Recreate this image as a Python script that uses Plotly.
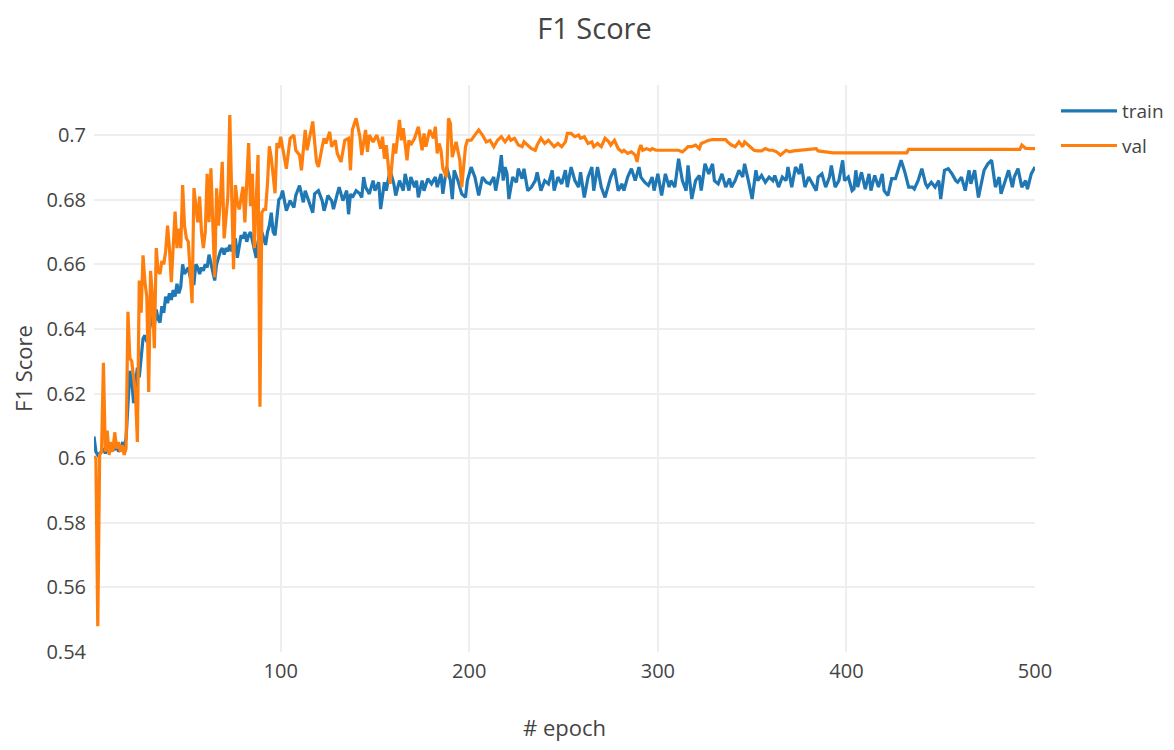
import plotly.graph_objects as go

# ---- data ----
train_epoch = [1,2,3,4,5,6,7,8,9,10,11,12,13,14,15,16,17,18,19,20,21,22,23,24,25,26,27,28,29,30,
    31,32,33,34,35,36,37,38,39,40,41,42,43,44,45,46,47,48,49,50,51,52,53,54,55,56,57,58,59,60,
    61,62,63,64,65,66,67,68,69,70,71,72,73,74,75,76,77,78,79,80,81,82,83,84,85,86,87,88,89,90,
    91,92,93,94,95,96,97,98,99,100,
    101,103,105,107,108,110,112,113,115,117,118,120,122,123,124,125,127,128,130,131,133,135,136,137,138,
    140,142,143,144,145,147,149,150,152,153,155,156,158,160,161,163,165,166,168,169,171,172,173,175,176,
    178,180,182,183,185,186,188,190,191,192,194,196,198,199,201,203,205,207,209,211,213,214,216,217,218,
    219,220,221,223,225,226,228,229,231,233,235,236,238,240,242,244,245,247,249,251,252,254,256,258,259,
    261,263,265,266,268,270,272,274,275,277,279,281,282,284,286,288,290,291,293,295,297,298,300,302,304,
    306,307,309,311,313,315,316,318,320,322,323,325,327,329,330,332,334,336,338,339,341,343,345,346,348,
    350,352,353,355,357,359,361,362,364,366,368,369,371,373,375,376,378,380,382,384,385,387,389,391,392,
    394,396,398,399,401,403,404,405,406,408,410,412,413,415,417,419,420,422,424,426,427,429,431,433,435,
    436,438,440,442,443,445,447,449,450,452,454,456,458,459,461,463,465,466,468,470,472,473,475,477,479,
    481,482,484,486,488,489,491,493,495,496,498,500]
train_f1 = [0.6067,0.6020,0.6010,0.6015,0.6020,0.6030,0.6015,0.6025,0.6040,0.6020,0.6035,0.6025,0.6045,
    0.6020,0.6030,0.6045,0.6040,0.6060,0.6150,0.6270,0.6240,0.6170,0.6230,0.6280,0.6250,0.6300,0.6370,
    0.6380,0.6360,0.6390,0.6420,0.6440,0.6410,0.6460,0.6430,0.6420,0.6470,0.6450,0.6500,0.6480,0.6510,
    0.6490,0.6520,0.6500,0.6540,0.6510,0.6530,0.6600,0.6570,0.6580,0.6590,0.6560,0.6540,0.6540,0.6600,
    0.6590,0.6570,0.6590,0.6580,0.6600,0.6590,0.6630,0.6600,0.6580,0.6550,0.6600,0.6620,0.6640,0.6650,
    0.6630,0.6650,0.6640,0.6660,0.6640,0.6670,0.6680,0.6620,0.6660,0.6690,0.6680,0.6700,0.6670,0.6690,
    0.6700,0.6670,0.6640,0.6620,0.6670,0.6690,0.6700,0.6680,0.6660,0.6700,0.6720,0.6760,0.6700,0.6690,
    0.6750,0.6800,0.6807,
    0.6828,0.6766,0.6797,0.6776,0.6813,0.6844,0.6792,0.6828,0.6797,0.6760,0.6818,0.6828,0.6797,0.6766,
    0.6786,0.6813,0.6797,0.6771,0.6818,0.6839,0.6797,0.6828,0.6755,0.6818,0.6807,0.6828,0.6818,0.6807,
    0.6870,0.6839,0.6818,0.6859,0.6828,0.6854,0.6771,0.6854,0.6828,0.6891,0.6849,0.6813,0.6859,0.6828,
    0.6880,0.6828,0.6870,0.6839,0.6859,0.6807,0.6859,0.6828,0.6865,0.6849,0.6870,0.6839,0.6880,0.6818,
    0.6901,0.6859,0.6802,0.6891,0.6859,0.6818,0.6807,0.6859,0.6901,0.6870,0.6813,0.6870,0.6854,0.6849,
    0.6870,0.6828,0.6891,0.6938,0.6859,0.6901,0.6880,0.6802,0.6870,0.6854,0.6896,0.6865,0.6896,0.6828,
    0.6839,0.6859,0.6885,0.6828,0.6859,0.6849,0.6891,0.6828,0.6870,0.6849,0.6891,0.6839,0.6901,0.6859,
    0.6839,0.6885,0.6807,0.6870,0.6901,0.6828,0.6901,0.6839,0.6807,0.6854,0.6870,0.6896,0.6828,0.6849,
    0.6828,0.6870,0.6896,0.6859,0.6901,0.6870,0.6854,0.6844,0.6870,0.6828,0.6880,0.6813,0.6880,0.6839,
    0.6859,0.6839,0.6927,0.6859,0.6828,0.6906,0.6802,0.6859,0.6875,0.6828,0.6911,0.6880,0.6911,0.6859,
    0.6849,0.6880,0.6839,0.6865,0.6839,0.6859,0.6891,0.6870,0.6911,0.6859,0.6802,0.6891,0.6859,0.6875,
    0.6854,0.6870,0.6859,0.6875,0.6839,0.6870,0.6859,0.6901,0.6839,0.6901,0.6880,0.6911,0.6839,0.6870,
    0.6849,0.6828,0.6870,0.6880,0.6839,0.6870,0.6906,0.6839,0.6859,0.6922,0.6859,0.6870,0.6828,0.6833,
    0.6891,0.6839,0.6885,0.6833,0.6880,0.6828,0.6875,0.6839,0.6880,0.6828,0.6813,0.6865,0.6865,0.6885,
    0.6922,0.6885,0.6839,0.6839,0.6833,0.6859,0.6896,0.6849,0.6839,0.6854,0.6839,0.6859,0.6802,0.6891,
    0.6896,0.6880,0.6859,0.6854,0.6870,0.6828,0.6891,0.6849,0.6891,0.6807,0.6859,0.6891,0.6911,0.6922,
    0.6839,0.6870,0.6818,0.6859,0.6891,0.6839,0.6870,0.6896,0.6839,0.6859,0.6833,0.6880,0.6901]

val_epoch = [1,2,3,4,5,6,7,8,9,10,11,12,13,14,15,16,17,18,19,20,21,22,23,24,25,26,27,28,29,30,
    31,32,33,34,35,36,37,38,39,40,41,42,43,44,45,46,47,48,49,50,51,52,53,54,55,56,57,58,59,60,
    61,62,63,64,65,66,67,68,69,70,71,72,73,74,75,76,77,78,79,80,81,82,83,84,85,86,87,88,89,90,
    91,92,93,94,95,96,97,98,99,100,
    101,103,105,107,108,110,111,113,114,117,119,120,122,123,124,126,127,129,130,132,134,136,137,138,140,
    142,143,145,146,147,149,151,153,154,155,156,158,160,161,163,164,165,167,168,169,171,173,175,176,177,
    179,181,182,183,184,185,186,188,189,190,191,193,195,196,198,199,201,203,205,207,209,211,213,215,217,
    219,221,222,224,226,228,229,231,233,235,236,238,240,242,244,245,247,249,251,252,254,256,258,259,261,
    263,265,266,268,270,272,274,275,277,279,281,282,284,286,288,289,290,291,292,294,296,297,299,311,313,
    315,316,318,320,322,323,325,327,329,336,337,339,341,343,345,346,347,349,351,353,355,357,359,361,363,
    365,367,368,370,372,384,385,393,432,433,492,493,495,500]
val_f1 = [0.6005,0.6000,0.5480,0.6010,0.6020,0.6295,0.6020,0.6085,0.6010,0.6050,0.6020,0.6080,0.6030,
    0.6050,0.6020,0.6040,0.6010,0.6030,0.6453,0.6310,0.6300,0.6250,0.6200,0.6050,0.6550,0.6450,0.6628,
    0.6545,0.6500,0.6205,0.6580,0.6500,0.6340,0.6650,0.6580,0.6570,0.6610,0.6600,0.6640,0.6720,0.6650,
    0.6545,0.6650,0.6763,0.6650,0.6710,0.6650,0.6845,0.6720,0.6680,0.6670,0.6560,0.6480,0.6836,0.6780,
    0.6730,0.6810,0.6700,0.6650,0.6700,0.6880,0.6730,0.6897,0.6730,0.6560,0.6835,0.6720,0.6800,0.6917,
    0.6680,0.6750,0.6810,0.7062,0.6810,0.6585,0.6845,0.6790,0.6770,0.6800,0.6840,0.6730,0.6850,0.6975,
    0.6780,0.6880,0.6650,0.6800,0.6938,0.6159,0.6760,0.6770,0.6770,0.6850,0.6965,0.6930,0.6880,0.6820,
    0.6975,0.6960,0.6995,
    0.6964,0.6896,0.6990,0.7000,0.6953,0.6938,0.6891,0.7016,0.6953,0.7042,0.6917,0.6901,0.6964,0.6990,
    0.6974,0.7010,0.6964,0.6984,0.6943,0.6917,0.6984,0.6990,0.6891,0.7016,0.7052,0.6995,0.6938,0.7016,
    0.6948,0.7000,0.6979,0.7000,0.6958,0.6995,0.6927,0.6969,0.6849,0.6974,0.6943,0.7047,0.6984,0.7021,
    0.6922,0.6984,0.6969,0.6990,0.7026,0.6953,0.7005,0.6964,0.7016,0.6990,0.7026,0.6943,0.6974,0.6953,
    0.6896,0.6870,0.7052,0.7036,0.6932,0.6979,0.6922,0.6839,0.6964,0.6984,0.6984,0.7000,0.7016,0.7000,
    0.6979,0.6984,0.6964,0.6984,0.6995,0.6979,0.6995,0.6984,0.6990,0.6969,0.6964,0.6979,0.6969,0.6958,
    0.6953,0.6969,0.6990,0.6974,0.6984,0.6969,0.6964,0.6974,0.6964,0.6979,0.7005,0.7005,0.6995,0.7000,
    0.6990,0.6995,0.6974,0.6979,0.6964,0.6974,0.6964,0.6990,0.6979,0.6969,0.6984,0.6958,0.6948,0.6953,
    0.6943,0.6948,0.6938,0.6917,0.6953,0.6969,0.6953,0.6958,0.6953,0.6958,0.6953,0.6953,0.6948,0.6958,
    0.6964,0.6964,0.6969,0.6958,0.6974,0.6979,0.6984,0.6986,0.6986,0.6979,0.6969,0.6964,0.6979,0.6964,
    0.6979,0.6974,0.6964,0.6953,0.6951,0.6951,0.6958,0.6953,0.6953,0.6948,0.6938,0.6948,0.6953,0.6948,
    0.6951,0.6958,0.6951,0.6945,0.6945,0.6956,0.6956,0.6969,0.6959,0.6958]

series_names = ["train", "val"]
series_colors = ["#1f77b4", "#ff7f0e"]

fig = go.Figure()
fig.add_trace(go.Scatter(x=train_epoch, y=train_f1, mode="lines", name=series_names[0],
                         legendgroup="g1",
                         line=dict(color=series_colors[0], width=3.2)))
fig.add_trace(go.Scatter(x=val_epoch, y=val_f1, mode="lines", name=series_names[1],
                         legendgroup="g2",
                         line=dict(color=series_colors[1], width=3.2)))

fig.update_layout(
    width=1158, height=734,
    paper_bgcolor="white", plot_bgcolor="white",
    font=dict(family="Open Sans", color="#444", size=20),
    title=dict(text="F1 Score", x=0.5065, xref="container", xanchor="center",
               y=1 - 21 / 734, yref="container", yanchor="middle",
               font=dict(size=29, color="#444")),
    margin=dict(l=86, r=131, t=77, b=90, pad=0),
    showlegend=True,
    legend=dict(x=0.905, xref="container", y=0.9877, yref="paper",
                xanchor="left", yanchor="top", font=dict(size=19),
                itemwidth=56, tracegroupgap=7, bgcolor="rgba(0,0,0,0)"),
    xaxis=dict(title=dict(text="# epoch", font=dict(size=22), standoff=59),
               range=[1, 500], dtick=100, tick0=0, ticklabelstandoff=5,
               showgrid=True, gridcolor="#eee", gridwidth=1.6,
               zeroline=False, showline=False, ticks="", automargin=False),
    yaxis=dict(title=dict(text="F1 Score", font=dict(size=22), standoff=13),
               range=[0.54, 0.7155], dtick=0.02, tick0=0.54, ticklabelstandoff=7,
               showgrid=True, gridcolor="#eee", gridwidth=1.6,
               zeroline=False, showline=False, ticks="", automargin=False),
)

fig.write_html("out.html")
